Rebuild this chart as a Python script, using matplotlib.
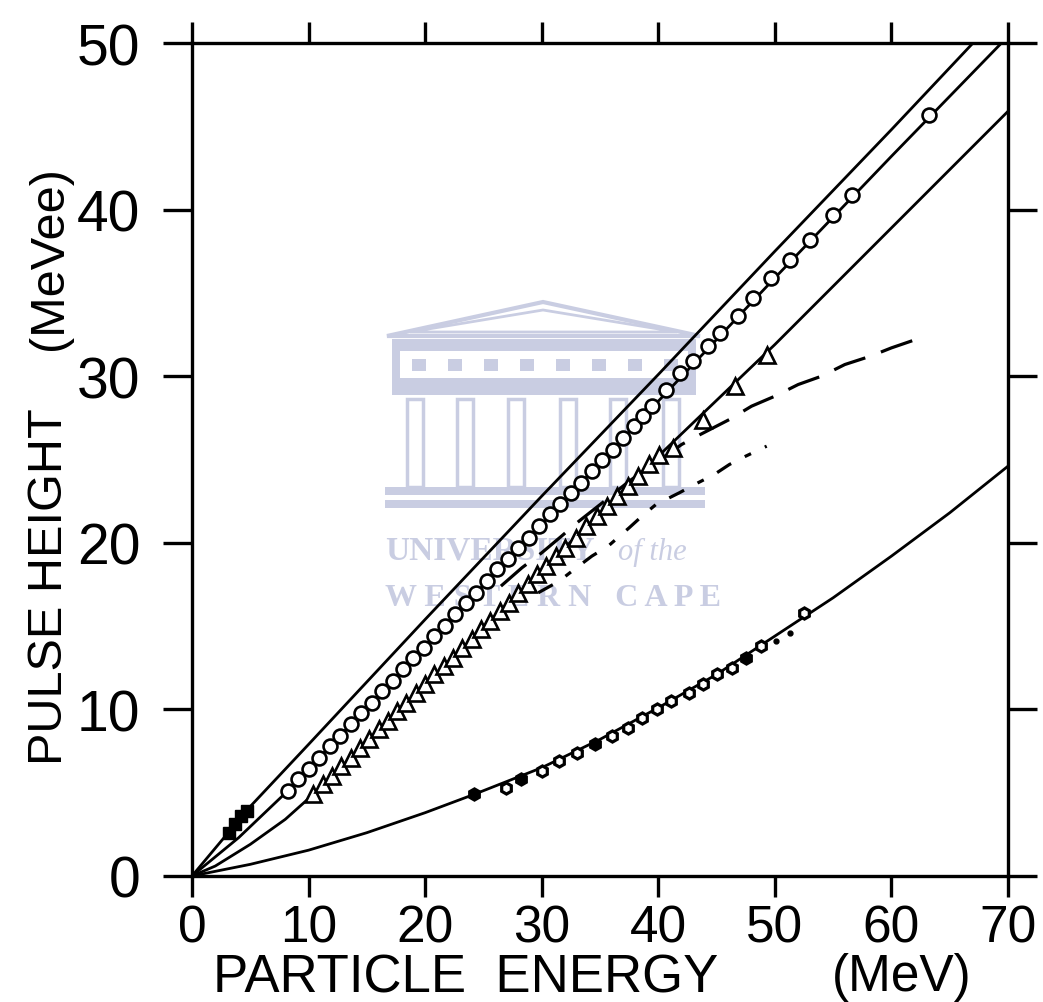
import matplotlib
matplotlib.use("Agg")
import matplotlib.pyplot as plt
from matplotlib.patches import Polygon, Rectangle

plt.rcParams['lines.scale_dashes'] = False

# ---- data (E in MeV, pulse height in MeVee) ----
# upper solid curve (no markers)
top_e = [0, 4.9, 10, 20, 30, 40, 50, 60, 67.0]
top_p = [0, 4.1, 7.9, 15.4, 22.8, 30.1, 37.5, 44.8, 50.0]

# open circles and their curve
circ_e = [8.2, 9.1, 10.0, 10.9, 11.8, 12.7, 13.6, 14.5, 15.4, 16.3, 17.2, 18.1, 19.0, 19.9,
          20.8, 21.7, 22.6, 23.5, 24.4, 25.3, 26.2, 27.1, 28.0, 28.9, 29.8, 30.7, 31.6, 32.5,
          33.4, 34.3, 35.2, 36.1, 37.0, 37.9, 38.7, 39.5, 40.7, 41.9, 43.0, 44.3, 45.3, 46.8,
          48.1, 49.7, 51.3, 53.0, 55.0, 56.6, 63.2]
circ_p = [5.1, 5.8, 6.45, 7.1, 7.8, 8.4, 9.1, 9.8, 10.4, 11.1, 11.7, 12.4, 13.1, 13.7,
          14.4, 15.0, 15.7, 16.4, 17.0, 17.7, 18.4, 19.0, 19.7, 20.3, 21.0, 21.7, 22.3, 23.0,
          23.6, 24.3, 25.0, 25.6, 26.3, 27.0, 27.6, 28.2, 29.2, 30.2, 30.9, 31.8, 32.6, 33.6,
          34.7, 35.9, 37.0, 38.2, 39.7, 40.9, 45.7]
circ_line_e = [0, 4, 8.2, 20, 30, 40, 50, 60, 70]
circ_line_p = [0, 2.3, 5.1, 13.8, 21.1, 28.5, 35.9, 43.2, 50.4]

# open triangles and their curve
tri_e = [10.4, 11.2, 12.0, 12.8, 13.6, 14.4, 15.2, 16.0, 16.8, 17.6, 18.4, 19.2, 20.0, 20.8,
         21.6, 22.4, 23.2, 24.0, 24.8, 25.6, 26.4, 27.2, 28.0, 28.8, 29.6, 30.4, 31.2, 32.0,
         32.9, 33.8, 34.7, 35.6, 36.5, 37.4, 38.3, 39.2, 40.1, 41.3, 43.8, 46.6, 49.3]
tri_p = [4.9, 5.5, 6.0, 6.6, 7.1, 7.7, 8.2, 8.8, 9.3, 9.9, 10.4, 11.0, 11.5, 12.1,
         12.6, 13.1, 13.7, 14.2, 14.8, 15.3, 15.9, 16.4, 17.0, 17.5, 18.1, 18.6, 19.2, 19.7,
         20.3, 21.0, 21.6, 22.2, 22.8, 23.4, 24.0, 24.7, 25.3, 25.7, 27.4, 29.4, 31.3]
tri_line_e = [0, 2, 5, 8, 10.4, 20, 30, 40, 50, 60, 70]
tri_line_p = [0, 0.6, 1.9, 3.4, 4.9, 11.5, 18.35, 25.2, 31.9, 38.9, 45.9]

# lower curve with small hexagons (some filled)
hex_e = [26.9, 30.0, 31.5, 33.0, 36.0, 37.4, 38.6, 39.9, 41.1, 42.6, 43.8, 45.0, 46.3, 48.8, 52.5]
hex_p = [5.3, 6.3, 6.9, 7.4, 8.4, 8.9, 9.5, 10.0, 10.5, 11.0, 11.5, 12.1, 12.5, 13.8, 15.8]
hexf_e = [24.2, 28.2, 34.6, 47.5]
hexf_p = [4.9, 5.8, 7.9, 13.1]
low_e = [0, 5, 10, 15, 20, 24.2, 30, 35, 40, 45, 50, 55, 60, 65, 70]
low_p = [0, 0.7, 1.55, 2.6, 3.8, 4.9, 6.5, 8.2, 10.1, 12.1, 14.4, 16.7, 19.2, 21.8, 24.6]
dot_e = [50.1, 51.3]
dot_p = [14.1, 14.6]

# filled squares near the origin
sq_e = [3.2, 3.7, 4.2, 4.7]
sq_p = [2.6, 3.1, 3.6, 3.9]

# dashed curves
dash1_e = [26.5, 28.3, 30.0, 31.7, 33.2, 35.2, 37.5, 40.0, 42.0, 43.6, 46.1, 48.0, 50.0,
           52.0, 54.0, 56.0, 58.2, 60.0, 62.5]
dash1_p = [17.4, 18.5, 19.4, 20.4, 21.3, 22.4, 23.7, 24.9, 25.9, 26.5, 27.4, 28.2, 28.8,
           29.5, 30.0, 30.7, 31.2, 31.7, 32.3]
dash2_e = [29.7, 31.5, 32.6, 34.3, 35.7, 37.5, 38.6, 39.8, 41.8, 43.4, 44.8, 46.1, 47.5, 49.3]
dash2_p = [17.0, 17.7, 18.3, 19.2, 19.8, 20.9, 21.6, 22.3, 23.0, 23.6, 24.1, 24.7, 25.2, 25.8]

x_ticks = [0, 10, 20, 30, 40, 50, 60, 70]
y_ticks = [0, 10, 20, 30, 40, 50]

W, H = 1043, 1003
fig = plt.figure(figsize=(W / 100, H / 100), dpi=100)
ax = fig.add_axes([192 / W, 126 / H, 816 / W, 833 / H])

# ---- faint watermark (decoration, pixel positions converted to axes fraction) ----
wm = '#c9cde2'
def px(x, y):
    return ((x - 192) / 816, (877 - y) / 833)

tr = ax.transAxes
ax.add_patch(Polygon([px(387, 337), px(543, 303), px(700, 337)], closed=True, fill=False,
                     ec=wm, lw=3, transform=tr, zorder=0))
ax.add_patch(Polygon([px(410, 333), px(543, 311), px(677, 333)], closed=True, fill=False,
                     ec=wm, lw=2, transform=tr, zorder=0))
for (x0, y0, x1, y1) in [(392, 340, 696, 352), (392, 379, 696, 396), (392, 352, 400, 379),
                         (688, 352, 696, 379), (385, 488, 705, 496), (385, 501, 705, 509)]:
    a = px(x0, y1)
    b = px(x1, y0)
    ax.add_patch(Rectangle(a, b[0] - a[0], b[1] - a[1], fc=wm, ec='none',
                           transform=tr, zorder=0))
for xw in [412, 448, 484, 520, 556, 592, 628, 664]:
    a = px(xw, 372)
    b = px(xw + 14, 360)
    ax.add_patch(Rectangle(a, b[0] - a[0], b[1] - a[1], fc=wm, ec='none',
                           transform=tr, zorder=0))
for xc in [407, 457, 508, 560, 610, 663]:
    a = px(xc, 488)
    b = px(xc + 16, 400)
    ax.add_patch(Rectangle(a, b[0] - a[0], b[1] - a[1], fill=False, ec=wm, lw=2.5,
                           transform=tr, zorder=0))
serif = ['Liberation Serif', 'DejaVu Serif']
ax.text(*px(385, 560), 'UNIVERSITY', transform=tr, color=wm, fontsize=24,
        family=serif, fontweight='bold', zorder=0)
ax.text(*px(618, 560), 'of the', transform=tr, color=wm, fontsize=22,
        family=serif, style='italic', zorder=0)
ax.text(*px(385, 606), 'W E S T E R N   C A P E', transform=tr, color=wm, fontsize=23,
        family=serif, fontweight='bold', zorder=0)

# ---- curves ----
lw = 2.0
ax.plot(top_e, top_p, color='black', lw=lw)
ax.plot(circ_line_e, circ_line_p, color='black', lw=lw)
ax.plot(tri_line_e, tri_line_p, color='black', lw=lw)
ax.plot(low_e, low_p, color='black', lw=lw)

ax.plot(dash1_e, dash1_p, color='black', lw=2.3, dashes=(24, 12))
ax.plot(dash2_e, dash2_p, color='black', lw=2.3, dashes=(12, 11, 5, 11))
ax.plot(dot_e, dot_p, ls='none', marker='o', ms=3.5, color='black')

ax.plot(circ_e, circ_p, ls='none', marker='o', ms=10, mfc='white', mec='black', mew=1.9)
ax.plot(tri_e, tri_p, ls='none', marker='^', ms=11, mfc='white', mec='black', mew=1.9)
ax.plot(hex_e, hex_p, ls='none', marker='h', ms=8, mfc='white', mec='black', mew=2.3)
ax.plot(hexf_e, hexf_p, ls='none', marker='h', ms=8, mfc='black', mec='black', mew=2.3)
ax.plot(sq_e, sq_p, ls='none', marker='s', ms=8.5, mfc='black', mec='black')

# ---- axes ----
ax.set_xlim(0, 70)
ax.set_ylim(0, 50)
ax.set_xticks(x_ticks)
ax.set_yticks(y_ticks)
for s in ax.spines.values():
    s.set_linewidth(2.4)
ax.tick_params(direction='out', top=True, right=True, labeltop=False, labelright=False,
               width=2.4, colors='black')
ax.tick_params(axis='x', length=15, pad=5)
ax.tick_params(axis='y', length=21, pad=16)
fam = ['Liberation Sans', 'DejaVu Sans']
for lab in ax.get_xticklabels():
    lab.set_fontsize(37)
    lab.set_family(fam)
for lab in ax.get_yticklabels():
    lab.set_fontsize(41)
    lab.set_family(fam)

fig.text(213 / W, (H - 993) / H, 'PARTICLE  ENERGY', fontsize=38, family=fam, va='baseline')
fig.text(832 / W, (H - 991) / H, '(MeV)', fontsize=37, family=fam, va='baseline')
fig.text(62 / W, (H - 765) / H, 'PULSE HEIGHT', fontsize=35, family=fam,
         rotation=90, rotation_mode='anchor', ha='left', va='baseline')
fig.text(62 / W, (H - 350) / H, '(MeVee)', fontsize=35, family=fam,
         rotation=90, rotation_mode='anchor', ha='left', va='baseline')

fig.savefig('out.png', dpi=100)
